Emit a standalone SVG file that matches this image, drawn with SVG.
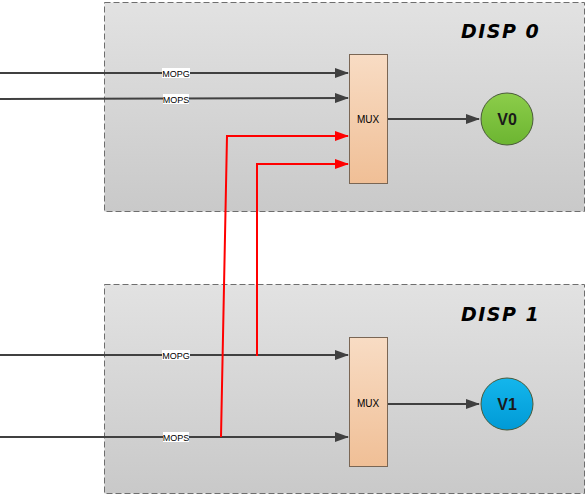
<svg xmlns="http://www.w3.org/2000/svg" width="587" height="497" viewBox="0 0 587 497">
<defs>
<linearGradient id="bg" x1="0" y1="0" x2="0" y2="1"><stop offset="0" stop-color="#e2e2e2"/><stop offset="1" stop-color="#c9c9c9"/></linearGradient>
<linearGradient id="mux" x1="0" y1="0" x2="0" y2="1"><stop offset="0" stop-color="#f8dcc4"/><stop offset="1" stop-color="#f0bf96"/></linearGradient>
<linearGradient id="g" x1="0" y1="0" x2="0" y2="1"><stop offset="0" stop-color="#8ccd4a"/><stop offset="1" stop-color="#6cb531"/></linearGradient>
<linearGradient id="b" x1="0" y1="0" x2="0" y2="1"><stop offset="0" stop-color="#14b6ec"/><stop offset="1" stop-color="#009ad6"/></linearGradient>
<marker id="ah" markerWidth="14" markerHeight="10" refX="13" refY="5" orient="auto" markerUnits="userSpaceOnUse"><path d="M0,0 L14,5 L0,10 z" fill="#404040"/></marker>
<marker id="ar" markerWidth="14" markerHeight="10" refX="13" refY="5" orient="auto" markerUnits="userSpaceOnUse"><path d="M0,0 L14,5 L0,10 z" fill="#ff0000"/></marker>
</defs>
<style>
.box{fill:url(#bg);stroke:#6e6e6e;stroke-width:1;stroke-dasharray:6,3}
.mux{fill:url(#mux);stroke:#7a6654;stroke-width:1}
.ln{fill:none;stroke:#404040;stroke-width:2}
.red{fill:none;stroke:#ff0000;stroke-width:2}
.lbl{font-family:"Liberation Sans",Arial,sans-serif;font-size:9px;fill:#000;text-anchor:middle}
.lblbg{fill:#fff}
.title{font-family:"DejaVu Sans",Verdana,sans-serif;font-size:19px;font-weight:bold;font-style:italic;fill:#000;letter-spacing:1.5px}
.mt{font-family:"Liberation Sans",Arial,sans-serif;font-size:10px;fill:#000;text-anchor:middle}
.vt{font-family:"Liberation Sans",Arial,sans-serif;font-size:16px;font-weight:bold;fill:#1a1a1a;text-anchor:middle}
.circ{stroke:#4a5a3a;stroke-width:1}
</style>
<g id="disp0">
<rect class="box" x="104.5" y="2.5" width="480" height="209"/>
<text class="title" x="461" y="38">DISP 0</text>
</g>
<g id="disp1">
<rect class="box" x="104.5" y="284.5" width="480" height="209"/>
<text class="title" x="461" y="321">DISP 1</text>
</g>
<g id="mux0">
<rect class="mux" x="349.5" y="54.5" width="38" height="129"/>
<text class="mt" x="368" y="123">MUX</text>
</g>
<g id="mux1">
<rect class="mux" x="349.5" y="337.5" width="38" height="129"/>
<text class="mt" x="368" y="407">MUX</text>
</g>
<g id="v0">
<circle class="circ" cx="507" cy="119" r="26" fill="url(#g)"/>
<text class="vt" x="507" y="125">V0</text>
</g>
<g id="v1">
<circle class="circ" cx="507" cy="404" r="26" fill="url(#b)" stroke="#2a4a5a"/>
<text class="vt" x="507" y="410">V1</text>
</g>
<g id="connectors">
<line class="ln" x1="0" y1="73" x2="348" y2="73" marker-end="url(#ah)"/>
<line class="ln" x1="0" y1="99" x2="348" y2="98" marker-end="url(#ah)"/>
<line class="ln" x1="388" y1="119" x2="479" y2="119" marker-end="url(#ah)"/>
<line class="ln" x1="0" y1="355" x2="348" y2="355" marker-end="url(#ah)"/>
<line class="ln" x1="0" y1="437" x2="348" y2="437" marker-end="url(#ah)"/>
<line class="ln" x1="388" y1="404" x2="479" y2="404" marker-end="url(#ah)"/>
<polyline class="red" points="221,437 227,136 348,136" marker-end="url(#ar)"/>
<polyline class="red" points="257,356 257,164 348,164" marker-end="url(#ar)"/>
<rect class="lblbg" x="162" y="68" width="28" height="10"/>
<text class="lbl" x="176" y="76.5">MOPG</text>
<rect class="lblbg" x="163" y="94" width="26" height="10"/>
<text class="lbl" x="176" y="102.5">MOPS</text>
<rect class="lblbg" x="162" y="350" width="28" height="10"/>
<text class="lbl" x="176" y="358.5">MOPG</text>
<rect class="lblbg" x="163" y="432" width="26" height="10"/>
<text class="lbl" x="176" y="440.5">MOPS</text>
</g>
</svg>
